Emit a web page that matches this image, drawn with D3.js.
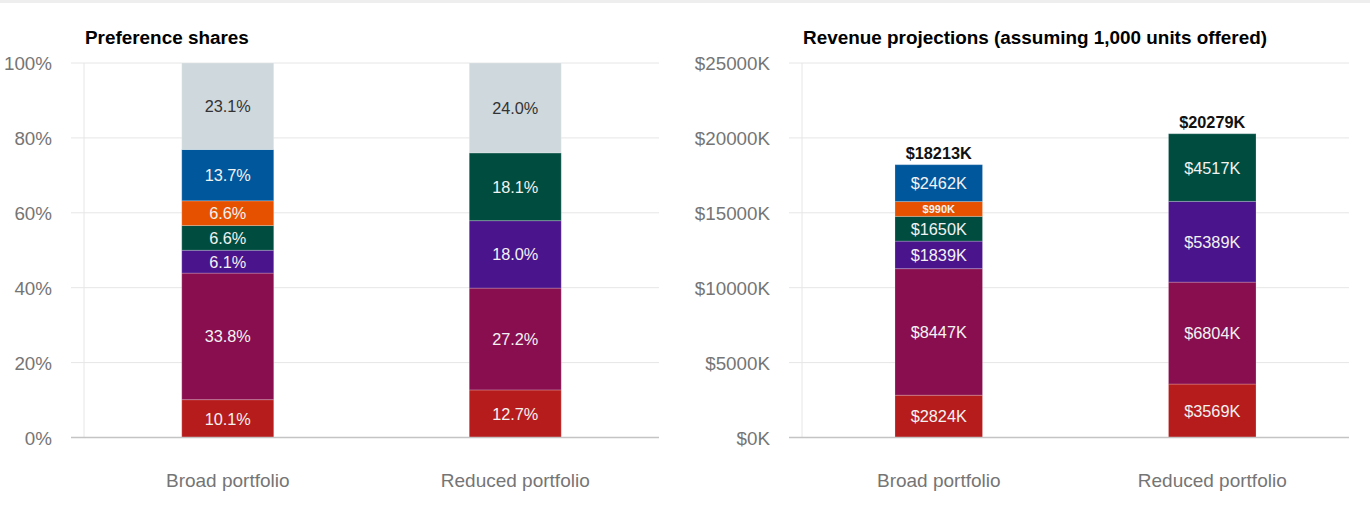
<!DOCTYPE html>
<html>
<head>
<meta charset="utf-8">
<script src="https://cdn.jsdelivr.net/npm/d3@7"></script>
<style>
  html, body { margin: 0; padding: 0; background: #fff; }
  svg { display: block; font-family: "Liberation Sans", Arial, sans-serif; }
</style>
</head>
<body>
<svg id="chart" width="1370" height="531"></svg>
<script>
// ---- data ----
const categories = ["Broad portfolio", "Reduced portfolio"];
const seriesNames = ["Product 1", "Product 2", "Product 3", "Product 4", "Product 5", "Product 6", "None"];
const seriesColors = ["#b71c1c", "#880e4f", "#4a148c", "#004d40", "#e65100", "#01579b", "#cfd8dc"];
const sharesBroad = [10.1, 33.8, 6.1, 6.6, 6.6, 13.7, 23.1];
const sharesReduced = [12.7, 27.2, 18.0, 18.1, 0, 0, 24.0];
const revenueBroad = [2824, 8447, 1839, 1650, 990, 2462];
const revenueReduced = [3569, 6804, 5389, 4517, 0, 0];
const revenueTotals = [18213, 20279];
const shareTicks = [0, 20, 40, 60, 80, 100];
const revenueTicks = [0, 5000, 10000, 15000, 20000, 25000];

const svg = d3.select("#chart");
svg.append("rect").attr("x", 0).attr("y", 0).attr("width", 1370).attr("height", 3).attr("fill", "#eeeeee");

function drawPanel(opts) {
  const { x0, x1, yTop, yBottom, title, ticks, tickFmt, domainMax, values, labelFmt, totals } = opts;
  const g = svg.append("g");
  const y = d3.scaleLinear().domain([0, domainMax]).range([yBottom, yTop]);
  const x = d3.scalePoint().domain(categories).range([x0, x1]).padding(0.5);
  const barW = x.step() * 0.32;

  // gridlines
  g.selectAll("line.grid").data(ticks.filter(t => t !== 0)).enter().append("line")
    .attr("x1", x0 - 13).attr("x2", x1)
    .attr("y1", d => y(d)).attr("y2", d => y(d))
    .attr("stroke", "#e6e6e6").attr("stroke-width", 1);
  // vertical line
  g.append("line").attr("x1", x0).attr("x2", x0).attr("y1", yTop).attr("y2", yBottom)
    .attr("stroke", "#e6e6e6").attr("stroke-width", 1);

  // y axis labels
  const axis = d3.axisLeft(y).tickValues(ticks).tickFormat(tickFmt).tickSize(0).tickPadding(0);
  const ax = g.append("g").attr("transform", `translate(${x0 - 32},0)`).call(axis);
  ax.select(".domain").remove();
  ax.selectAll("text").attr("font-size", 18.8).attr("fill", "#757575")
    .attr("font-family", '"Liberation Sans", Arial, sans-serif').attr("dy", "0.35em");

  // bars
  categories.forEach((cat, ci) => {
    const vals = values[ci];
    let acc = 0;
    vals.forEach((v, si) => {
      if (!v) return;
      const b0 = acc, b1 = acc + v;
      acc = b1;
      const yt = y(b1), yb = y(b0);
      const h = yb - yt;
      g.append("rect")
        .attr("x", x(cat) - barW / 2).attr("y", yt)
        .attr("width", barW).attr("height", h)
        .attr("fill", seriesColors[si])
        .attr("stroke", "rgba(255,255,255,0.22)").attr("stroke-width", 1);
      const small = h < 20;
      g.append("text")
        .attr("x", x(cat)).attr("y", (yt + yb) / 2)
        .attr("text-anchor", "middle").attr("dominant-baseline", "central")
        .attr("font-size", small ? 11 : 16.3)
        .attr("font-weight", small ? "bold" : "normal")
        .attr("fill", si === 6 ? "#333333" : "#f2f2f2")
        .text(labelFmt(v));
    });
    if (totals) {
      g.append("text")
        .attr("x", x(cat)).attr("y", y(acc) - 6)
        .attr("text-anchor", "middle")
        .attr("font-size", 16.3).attr("font-weight", "bold").attr("fill", "#111")
        .text(labelFmt(totals[ci]));
    }
  });

  // baseline
  g.append("line").attr("x1", x0 - 13).attr("x2", x1).attr("y1", y(0)).attr("y2", y(0))
    .attr("stroke", "#c4c4c4").attr("stroke-width", 1.5);

  // category labels
  g.selectAll("text.cat").data(categories).enter().append("text")
    .attr("x", d => x(d)).attr("y", 487)
    .attr("text-anchor", "middle").attr("font-size", 19).attr("fill", "#757575")
    .text(d => d);

  // title
  g.append("text").attr("x", x0 + 1).attr("y", 44)
    .attr("font-size", 18.9).attr("font-weight", "bold").attr("fill", "#000")
    .text(title);
}

drawPanel({
  x0: 84, x1: 659, yTop: 63, yBottom: 437.5,
  title: "Preference shares",
  ticks: shareTicks, tickFmt: d => d + "%", domainMax: 100,
  values: [sharesBroad, sharesReduced],
  labelFmt: v => v.toFixed(1) + "%"
});

drawPanel({
  x0: 802, x1: 1349, yTop: 63, yBottom: 437.5,
  title: "Revenue projections (assuming 1,000 units offered)",
  ticks: revenueTicks, tickFmt: d => "$" + d + "K", domainMax: 25000,
  values: [revenueBroad, revenueReduced],
  labelFmt: v => "$" + v + "K",
  totals: revenueTotals
});
</script>
</body>
</html>
